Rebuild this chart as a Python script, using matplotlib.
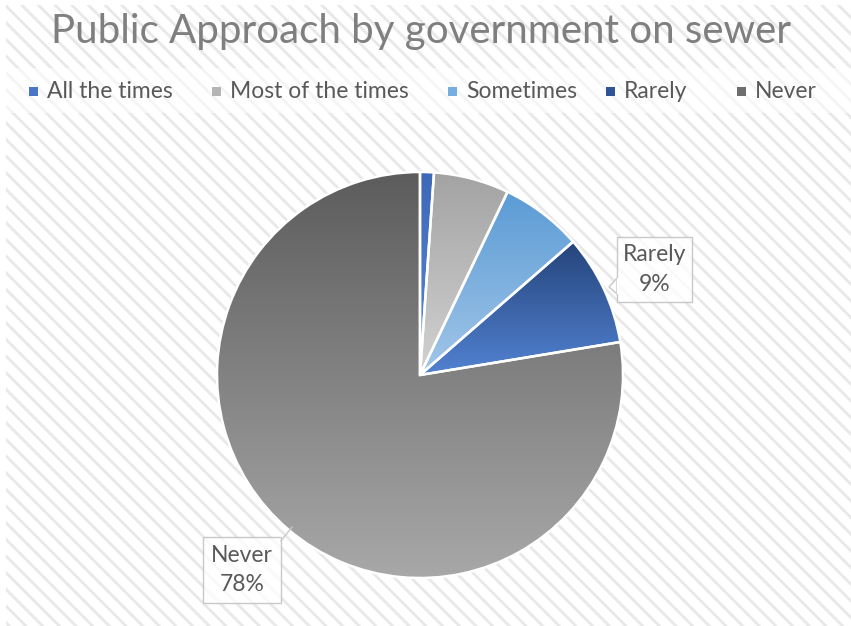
import matplotlib
matplotlib.use("Agg")
import matplotlib.pyplot as plt
import numpy as np
from matplotlib.patches import Rectangle, Polygon
from matplotlib.colors import to_rgb
from matplotlib.lines import Line2D

categories = ["All the times", "Most of the times", "Sometimes", "Rarely", "Never"]
values = [1.1, 6.0, 6.5, 8.8, 77.6]
title = "Public Approach by government on sewer"

top_colors = ["#3e68b8", "#a3a3a3", "#5b9bd5", "#25447a", "#5c5c5c"]
bot_colors = ["#5a8ad6", "#d2d2d2", "#a2c6e8", "#5282d2", "#a8a8a8"]
legend_colors = ["#4a76c8", "#b5b5b5", "#76aee0", "#2f5597", "#6e6e6e"]

plt.rcParams['hatch.linewidth'] = 2.0
FONT = ['Lato', 'DejaVu Sans']

W, H = 851, 626
fig = plt.figure(figsize=(W/100, H/100), dpi=100)
fig.patch.set_facecolor("white")

# hatched background
bg = Rectangle((6/W, 0), 1, (H-5)/H, transform=fig.transFigure,
               facecolor="white", edgecolor="#e8e8e8", hatch="\\\\", linewidth=0, zorder=-2)
fig.add_artist(bg)
band = Rectangle((6/W, 1-113/H), 1, 45/H, transform=fig.transFigure,
                 facecolor=(1, 1, 1, 0.55), edgecolor="none", linewidth=0, zorder=-1)
fig.add_artist(band)

fig.text(421/W, 1-31/H, title, ha="center", va="center", fontsize=29,
         color="#7f7f7f", family=FONT)

# legend
lx = [33, 216, 452, 610, 741]
for x, c, name in zip(lx, legend_colors, categories):
    fig.add_artist(Rectangle(((x-4)/W, 1-96/H), 9/W, 9/H, transform=fig.transFigure,
                             facecolor=c, edgecolor="none"))
    fig.text((x+14)/W, 1-92/H, name, ha="left", va="center", fontsize=16.5,
             color="#595959", family=FONT)

# pie
cx, cy, R = 420, 375, 203
ax = fig.add_axes([(cx-R)/W, (H-cy-R)/H, 2*R/W, 2*R/H], zorder=0)
wedges, _ = ax.pie(values, startangle=90, counterclock=False, radius=1,
                   wedgeprops=dict(edgecolor="white", linewidth=1.8))
ax.set_aspect("equal")
ax.axis("off")

for w, tc, bc in zip(wedges, top_colors, bot_colors):
    ext = w.get_path().get_extents()
    t = np.linspace(0, 1, 256)[:, None, None]
    grad = (1-t)*np.array(to_rgb(tc))[None, None, :] + t*np.array(to_rgb(bc))[None, None, :]
    im = ax.imshow(grad, extent=[ext.x0, ext.x1, ext.y0, ext.y1], origin="upper",
                   aspect="auto", zorder=1, interpolation="bilinear")
    im.set_clip_path(w)
    w.set_facecolor("none")
    w.set_zorder(2)
ax.set_xlim(-1, 1)
ax.set_ylim(-1, 1)

# data labels
def label_box(x0, y0, x1, y1, text):
    fig.add_artist(Rectangle((x0/W, 1-y1/H), (x1-x0)/W, (y1-y0)/H, transform=fig.transFigure,
                             facecolor=(1, 1, 1, 0.75), edgecolor="#c8c8c8", linewidth=1.0,
                             zorder=3))
    fig.text((x0+x1)/2/W, 1-(y0+y1)/2/H, text, ha="center", va="center",
             fontsize=16.5, color="#595959", family=FONT, linespacing=1.5, zorder=4)

tot = sum(values)
for name, v in zip(categories, values):
    if name == "Rarely":
        label_box(617, 237, 692, 302, f"{name}\n{v/tot*100:.0f}%")
        tri = Polygon([(617/W, 1-278/H), (609/W, 1-287/H), (617/W, 1-294/H)],
                      closed=True, transform=fig.transFigure,
                      facecolor=(1, 1, 1, 0.9), edgecolor="#c8c8c8", linewidth=1.0, zorder=3)
        fig.add_artist(tri)
        fig.add_artist(Line2D([617.6/W, 617.6/W], [1-279/H, 1-293/H], transform=fig.transFigure,
                              color="white", linewidth=1.5, zorder=3.5))
    elif name == "Never":
        label_box(203, 537, 281, 603, f"{name}\n{v/tot*100:.0f}%")
        fig.add_artist(Line2D([281/W, 292/W], [1-541/H, 1-527/H], transform=fig.transFigure,
                              color="#c8c8c8", linewidth=1.0, zorder=3))

fig.savefig("out.png", dpi=100)
